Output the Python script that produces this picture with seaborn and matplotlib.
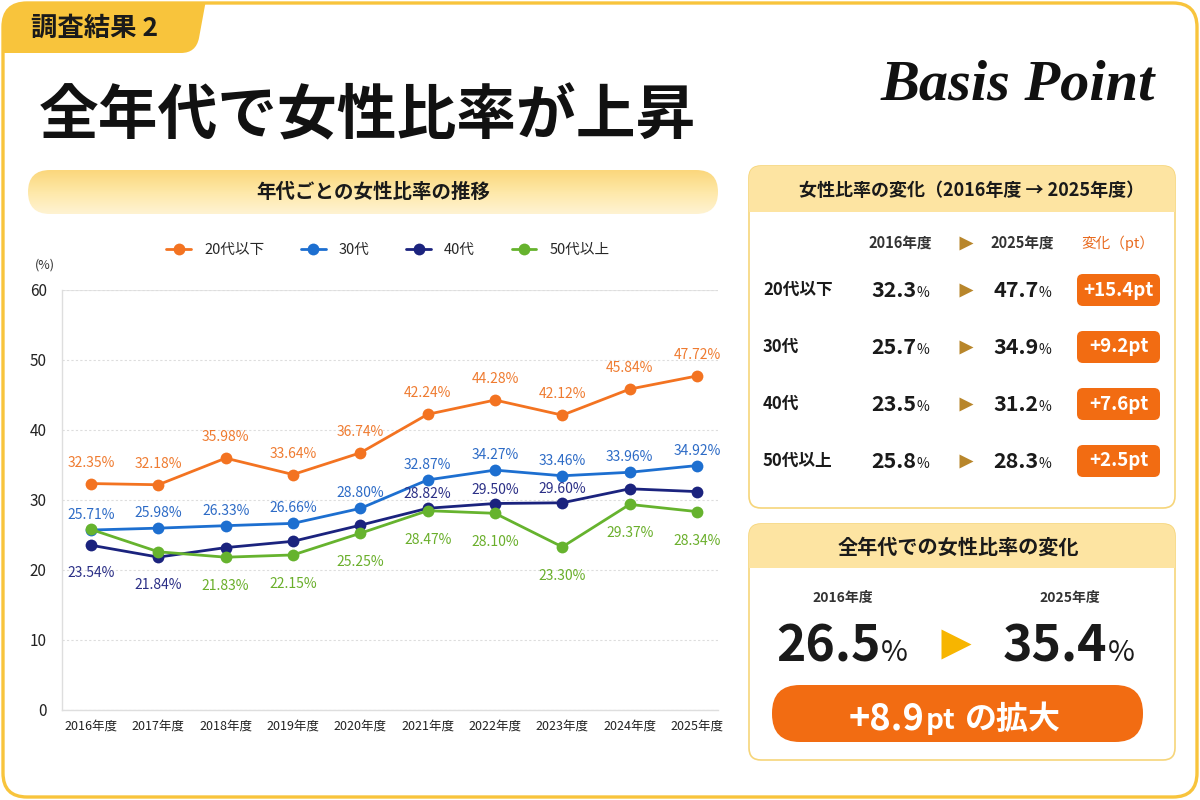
import numpy as np
import pandas as pd
import matplotlib
matplotlib.use("Agg")
import matplotlib.pyplot as plt
import seaborn as sns
from matplotlib.patches import FancyBboxPatch, PathPatch, Rectangle
from matplotlib.path import Path
from matplotlib.colors import LinearSegmentedColormap

# ---------------- data ----------------
years = ["2016年度", "2017年度", "2018年度", "2019年度", "2020年度",
         "2021年度", "2022年度", "2023年度", "2024年度", "2025年度"]
groups = ["20代以下", "30代", "40代", "50代以上"]
v20 = [32.35, 32.18, 35.98, 33.64, 36.74, 42.24, 44.28, 42.12, 45.84, 47.72]
v30 = [25.71, 25.98, 26.33, 26.66, 28.80, 32.87, 34.27, 33.46, 33.96, 34.92]
v40 = [23.54, 21.84, 23.2, 24.1, 26.4, 28.82, 29.50, 29.60, 31.6, 31.2]
v50 = [25.8, 22.6, 21.83, 22.15, 25.25, 28.47, 28.10, 23.30, 29.37, 28.34]
# which points carry a value label (1 above, -1 below, 0 none)
lab20 = [1] * 10
lab30 = [1] * 10
lab40 = [-1, -1, 0, 0, 0, 1, 1, 1, 0, 0]
lab50 = [0, 0, -1, -1, -1, -1, -1, -1, -1, -1]

tbl_groups = ["20代以下", "30代", "40代", "50代以上"]
tbl_2016 = [32.3, 25.7, 23.5, 25.8]
tbl_2025 = [47.7, 34.9, 31.2, 28.3]
tbl_change = [15.4, 9.2, 7.6, 2.5]
all_2016 = 26.5
all_2025 = 35.4
all_change = 8.9

# ---------------- style ----------------
sns.set_theme(style="white")
plt.rcParams["font.family"] = ["Noto Sans CJK JP", "DejaVu Sans"]

line_cols = ["#F37321", "#1D6FD0", "#1B237E", "#66B32E"]
text_cols = ["#EF7B30", "#2D6BC6", "#2B2F86", "#6AAF2B"]
YEL = "#F8C43C"
DARK = "#1a1a1a"
ORANGE = "#F26C12"

fig = plt.figure(figsize=(12, 8), dpi=100)
bg = fig.add_axes([0, 0, 1, 1])
bg.set_xlim(0, 1200)
bg.set_ylim(800, 0)
bg.axis("off")
renderer = fig.canvas.get_renderer()


def run_text(x, y, parts, ha="center", color=DARK, zorder=6):
    texts, widths = [], []
    for s, size, weight, gap in parts:
        t = bg.text(0, y, s, fontsize=size, fontweight=weight, color=color,
                    va="baseline", ha="left", zorder=zorder)
        bb = t.get_window_extent(renderer)
        texts.append(t)
        widths.append(bb.width + gap)
    total = sum(widths) - parts[-1][3]
    x0 = x - total / 2 if ha == "center" else (x - total if ha == "right" else x)
    for t, w in zip(texts, widths):
        t.set_x(x0)
        x0 += w


# outer frame
frame = FancyBboxPatch((3, 3), 1194, 794, boxstyle="round,pad=0,rounding_size=24",
                       fc="white", ec=YEL, lw=2.4, zorder=1)
bg.add_patch(frame)
# tab
verts = [(0, 0), (206, 0), (199, 38), (196, 53), (181, 53), (0, 53), (0, 0)]
codes = [Path.MOVETO, Path.LINETO, Path.LINETO, Path.CURVE3, Path.CURVE3, Path.LINETO, Path.CLOSEPOLY]
tab = PathPatch(Path(verts, codes), fc=YEL, ec="none", zorder=2)
bg.add_patch(tab)
tab.set_clip_path(frame)
bg.text(31, 28, "調査結果 2", fontsize=19, fontweight="bold", color=DARK,
        va="center", ha="left", zorder=3)

# title
bg.text(39, 117, "全年代で女性比率が上昇", fontsize=43, fontweight="bold",
        color="#111111", va="center", ha="left", zorder=3)
# logo
bg.text(1018, 86, "Basis Point", fontsize=42, fontweight="bold", style="italic",
        family="Liberation Serif", color="#111111", va="center", ha="center", zorder=3)

# left pill header
pill = FancyBboxPatch((28, 170), 690, 44, boxstyle="round,pad=0,rounding_size=22",
                      fc="none", ec="none", zorder=2)
bg.add_patch(pill)
cmap = LinearSegmentedColormap.from_list("g", ["#FBD77C", "#FEE8A8", "#FFF3D2"])
grad = np.linspace(0, 1, 64).reshape(-1, 1)
im = bg.imshow(grad, extent=(28, 718, 214, 170), origin="upper", aspect="auto",
               cmap=cmap, zorder=2)
im.set_clip_path(pill)
bg.text(373, 192, "年代ごとの女性比率の推移", fontsize=14, fontweight="bold",
        color=DARK, va="center", ha="center", zorder=3)

# right panels
def panel(y, h, hh, title, tsize, tx):
    p = FancyBboxPatch((749, y), 426, h, boxstyle="round,pad=0,rounding_size=12",
                       fc="white", ec="#F6D57A", lw=1.2, zorder=2)
    bg.add_patch(p)
    r = Rectangle((749, y), 426, hh, fc="#FDE4A2", ec="none", zorder=2)
    bg.add_patch(r)
    r.set_clip_path(p)
    bg.text(tx, y + hh / 2 + 1, title, fontsize=tsize, fontweight="bold", color=DARK,
            va="center", ha="center", zorder=3)

panel(166, 342, 46, "女性比率の変化（2016年度 → 2025年度）", 13, 972)
panel(524, 236, 44, "全年代での女性比率の変化", 14.5, 958)

# table
bg.text(900, 243, "2016年度", fontsize=10.5, fontweight="bold", color="#333333",
        va="center", ha="center", zorder=3)
bg.text(1022, 243, "2025年度", fontsize=10.5, fontweight="bold", color="#333333",
        va="center", ha="center", zorder=3)
bg.text(1118, 243, "変化（pt）", fontsize=10.5, color="#E86A1E",
        va="center", ha="center", zorder=3)
bg.plot([966], [243], marker=">", ms=10, color="#B8862B", mec="none", zorder=3)
rows_y = [290, 347, 404, 461]
for g, a, b, c, yy in zip(tbl_groups, tbl_2016, tbl_2025, tbl_change, rows_y):
    bg.text(763, yy, g, fontsize=12, fontweight="bold", color=DARK,
            va="center", ha="left", zorder=3)
    run_text(900, yy + 7, [(f"{a:.1f}", 15.5, "bold", 0), ("%", 10, "normal", 0)])
    run_text(1022, yy + 7, [(f"{b:.1f}", 15.5, "bold", 0), ("%", 10, "normal", 0)])
    bg.plot([966], [yy], marker=">", ms=10, color="#B8862B", mec="none", zorder=3)
    badge = FancyBboxPatch((1077, yy - 16), 83, 32, boxstyle="round,pad=0,rounding_size=6",
                           fc=ORANGE, ec="none", zorder=3)
    bg.add_patch(badge)
    bg.text(1118.5, yy, f"+{c:.1f}pt", fontsize=13.5, fontweight="bold", color="white",
            va="center", ha="center", zorder=4)

# overall
bg.text(843, 598, "2016年度", fontsize=10, fontweight="bold", color="#333333",
        va="center", ha="center", zorder=3)
bg.text(1070, 598, "2025年度", fontsize=10, fontweight="bold", color="#333333",
        va="center", ha="center", zorder=3)
run_text(842, 661, [(f"{all_2016:.1f}", 36, "bold", 1), ("%", 21, "normal", 0)])
run_text(1069, 661, [(f"{all_2025:.1f}", 36, "bold", 1), ("%", 21, "normal", 0)])
bg.plot([956], [644], marker=">", ms=22, color="#F7B500", mec="none", zorder=3)
big = FancyBboxPatch((772, 685), 371, 57, boxstyle="round,pad=0,rounding_size=28",
                     fc=ORANGE, ec="none", zorder=3)
bg.add_patch(big)
run_text(955, 729, [(f"+{all_change:.1f}", 26, "bold", 1), ("pt", 20, "bold", 10),
                    ("の拡大", 23, "bold", 0)], color="white", zorder=5)

# ---------------- line chart ----------------
ax = fig.add_axes([62 / 1200, 1 - 710 / 800, 656 / 1200, 420 / 800], zorder=5)
ax.set_facecolor("none")
df = pd.DataFrame({
    "idx": list(range(10)) * 4,
    "年度": years * 4,
    "女性比率": v20 + v30 + v40 + v50,
    "年代": sum([[g] * 10 for g in groups], []),
})
sns.lineplot(data=df, x="idx", y="女性比率", hue="年代", hue_order=groups,
             palette=dict(zip(groups, line_cols)), marker="o", markersize=8.5,
             markeredgewidth=0, linewidth=2.0, ax=ax, sort=False)
ax.set_xlim(-0.431, 9.312)
ax.set_ylim(0, 60)
ax.set_yticks(range(0, 61, 10))
ax.set_xticks(range(10))
ax.set_xticklabels(years)
ax.set_xlabel("")
ax.set_ylabel("")
ax.tick_params(axis="y", length=0, pad=11, labelsize=11, labelcolor="#222222")
ax.tick_params(axis="x", length=0, pad=7, labelsize=9, labelcolor="#222222")
ax.grid(axis="y", color="#dddddd", lw=0.8, ls=(0, (2, 2)))
for s in ["top", "right"]:
    ax.spines[s].set_visible(False)
for s in ["left", "bottom"]:
    ax.spines[s].set_color("#dedede")
    ax.spines[s].set_linewidth(1.0)
ax.axhline(60, color="#e6e6e6", lw=0.8, zorder=0)

offs = {1: {0: 21, 1: 15, 2: 14, 3: 17}, -1: {0: -28, 1: -28, 2: -28, 3: -29}}
for k, (vals, labs) in enumerate(zip([v20, v30, v40, v50], [lab20, lab30, lab40, lab50])):
    for i, (v, d) in enumerate(zip(vals, labs)):
        if d == 0:
            continue
        ax.annotate(f"{v:.2f}%", (i, v), xytext=(0, offs[d][k]), textcoords="offset pixels",
                    ha="center", va="center", fontsize=10, color=text_cols[k], zorder=6)

h, l = ax.get_legend_handles_labels()
ax.get_legend().remove()
fig.legend(h, l, loc="center", bbox_to_anchor=(388 / 1200, 1 - 250 / 800), ncol=4,
           frameon=False, fontsize=10.5, handlelength=1.7, handletextpad=0.9,
           columnspacing=2.5)
bg.text(45, 265, "(%)", fontsize=9, color="#333333", va="center", ha="center", zorder=3)

fig.savefig("out.png", dpi=100)
